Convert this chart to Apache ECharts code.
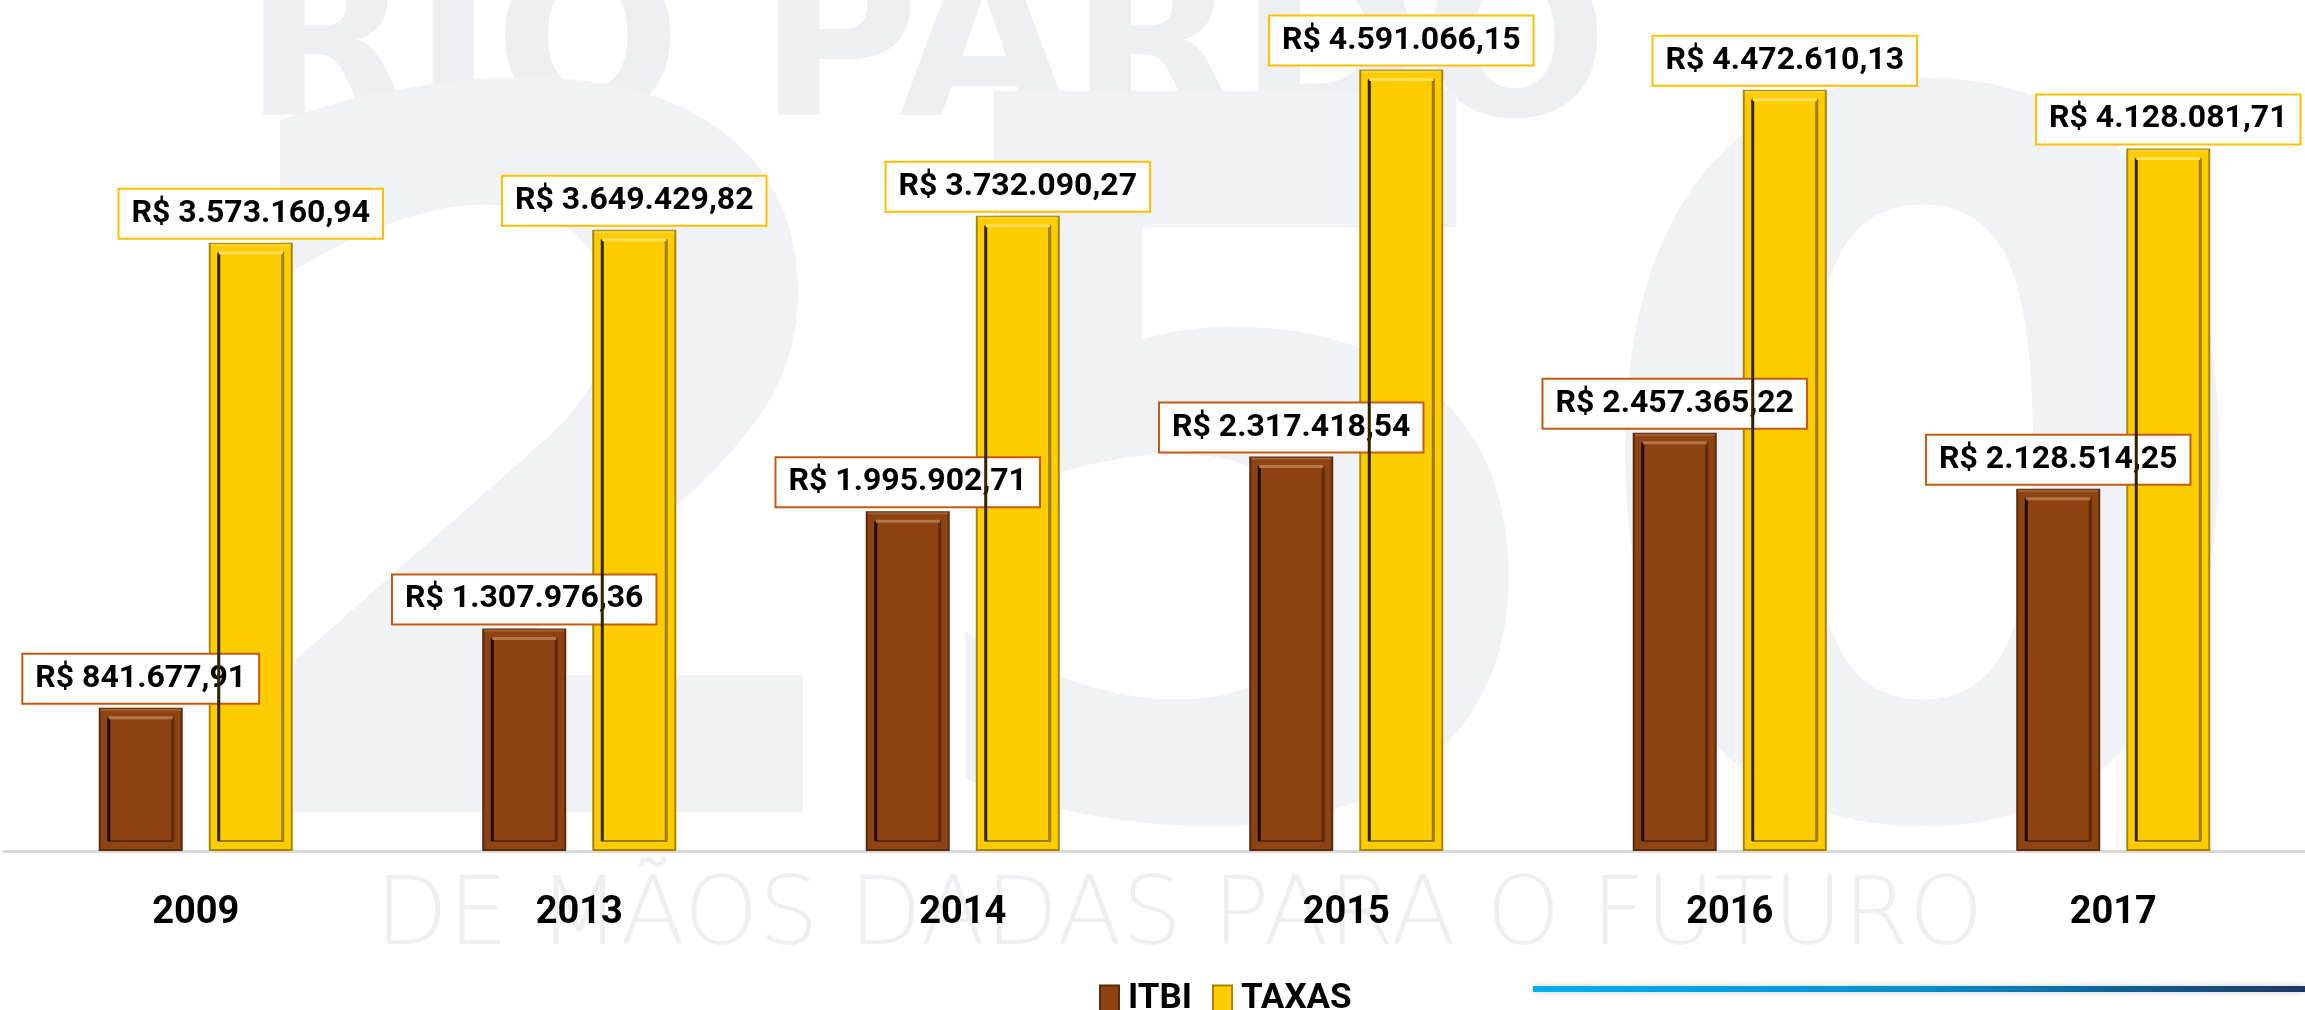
<!DOCTYPE html>
<html style="height: 100%">
<head>
<meta charset="utf-8" />
<title>ITBI x TAXAS</title>
</head>
<body style="height: 100%; margin: 0; background: #fff">
<div id="container" style="width: 2305px; height: 1010px"></div>
<script type="text/javascript" src="https://cdn.jsdelivr.net/npm/echarts@6/dist/echarts.min.js"></script>
<script type="text/javascript">
var anos = ['2009', '2013', '2014', '2015', '2016', '2017'];
var itbi = [841677.91, 1307976.36, 1995902.71, 2317418.54, 2457365.22, 2128514.25];
var taxas = [3573160.94, 3649429.82, 3732090.27, 4591066.15, 4472610.13, 4128081.71];
var nomes = ['ITBI', 'TAXAS'];

var fonte = "Roboto, 'Liberation Sans', sans-serif";
var W = 2305;
var larguraBarra = 84;
var vao = 26;

// formato R$ 1.234.567,89
function reais(v) {
    var p = v.toFixed(2).split('.');
    var inteiro = p[0].replace(/\B(?=(\d{3})+(?!\d))/g, '.');
    return 'R$ ' + inteiro + ',' + p[1];
}

var cores = [
    { fill: '#8e4313', borda: '#5a2a0a', caixa: '#c55a11', escuro: '#1e0b02', claro: '#b47646', meio: '#5e2a09' },
    { fill: '#ffcc00', borda: '#a88600', caixa: '#ffc000', escuro: '#2e2400', claro: '#ffe15a', meio: '#9c7c00' }
];

// dados do chanfro (desenho interno das barras)
var chanfro = [];
for (var i = 0; i < anos.length; i++) {
    chanfro.push([i, itbi[i], 0]);
    chanfro.push([i, taxas[i], 1]);
}

function serieBarra(idx, dados) {
    var c = cores[idx];
    return {
        name: nomes[idx],
        type: 'bar',
        data: dados,
        barWidth: larguraBarra,
        barGap: (vao / larguraBarra * 100).toFixed(1) + '%',
        itemStyle: { color: c.fill, borderColor: c.borda, borderWidth: 2 },
        label: {
            show: true,
            position: 'top',
            distance: 5,
            formatter: function (p) { return reais(p.value); },
            color: '#000',
            fontFamily: fonte,
            fontWeight: 'bold',
            fontSize: 32,
            lineHeight: 36,
            backgroundColor: '#fff',
            borderColor: c.caixa,
            borderWidth: 2,
            padding: [6, 12]
        },
        labelLayout: function (p) {
            var r = p.labelRect;
            if (r.x + r.width > W) return { dx: W - (r.x + r.width) - 1 };
            return {};
        },
        z: 3
    };
}

var dom = document.getElementById('container');
var myChart = echarts.init(dom);

var option = {
    backgroundColor: '#fff',
    animation: false,
    textStyle: { fontFamily: fonte },
    graphic: [
        { type: 'text', z: 0, left: 243, top: -52, silent: true,
          style: { text: 'RIO PARDO', font: "bold 220px 'DejaVu Sans'", fill: '#eeeff2' } },
        { type: 'text', z: 0, left: 200, top: 60, silent: true,
          style: { text: '250', font: "bold 990px 'DejaVu Sans'", fill: '#f1f2f5' } },
        { type: 'text', z: 0, left: 375, top: 872, silent: true,
          style: { text: 'DE MÃOS DADAS PARA O FUTURO', font: "95px 'DejaVu Sans Light', 'DejaVu Sans'", fill: '#eeeff2' } },
        { type: 'rect', z: 1, silent: true,
          shape: { x: 1533, y: 986, width: 772, height: 6 },
          style: {
              fill: new echarts.graphic.LinearGradient(0, 0, 1, 0, [
                  { offset: 0, color: '#00b0f0' },
                  { offset: 0.5, color: '#0090cc' },
                  { offset: 1, color: '#1f3864' }
              ]),
              shadowBlur: 6, shadowColor: 'rgba(0,0,0,0.2)'
          } }
    ],
    legend: {
        data: nomes,
        left: 1094,
        top: 977,
        itemWidth: 19,
        itemHeight: 28,
        itemGap: 20,
        icon: 'rect',
        textStyle: { fontFamily: fonte, fontWeight: 'bold', fontSize: 35, color: '#000', padding: [0, 0, 0, 4] }
    },
    grid: { left: 4, right: -24, top: 0, bottom: 159, containLabel: false },
    xAxis: {
        type: 'category',
        data: anos,
        axisTick: { show: false },
        axisLine: { lineStyle: { color: '#d9d9d9', width: 3 } },
        axisLabel: { color: '#000', fontFamily: fonte, fontWeight: 'bold', fontSize: 38, margin: 43 }
    },
    yAxis: {
        type: 'value',
        min: 0,
        max: 5000000,
        interval: 1000000,
        show: false,
        splitLine: { show: false }
    },
    series: [
        serieBarra(0, itbi),
        serieBarra(1, taxas),
        {
            type: 'custom',
            name: 'chanfro',
            silent: true,
            z: 4,
            data: chanfro,
            renderItem: function (params, api) {
                var k = api.value(2);
                var c = cores[k];
                var topo = api.coord([api.value(0), api.value(1)]);
                var base = api.coord([api.value(0), 0]);
                var desl = (k === 0 ? -1 : 1) * (larguraBarra + vao) / 2;
                var x0 = topo[0] + desl - larguraBarra / 2;
                var y0 = topo[1];
                var y1 = base[1];
                var m = 10;
                var ix0 = x0 + m, ix1 = x0 + larguraBarra - m;
                var iy0 = y0 + m, iy1 = y1 - m;
                return {
                    type: 'group',
                    children: [
                        { type: 'rect', shape: { x: ix0, y: iy0, width: ix1 - ix0, height: iy1 - iy0 },
                          style: { fill: 'none', stroke: c.meio, lineWidth: 2 } },
                        { type: 'line', shape: { x1: ix0, y1: iy0, x2: ix0, y2: iy1 },
                          style: { stroke: c.escuro, lineWidth: 3 } },
                        { type: 'line', shape: { x1: ix1, y1: iy0, x2: ix1, y2: iy1 },
                          style: { stroke: c.meio, lineWidth: 3 } },
                        { type: 'line', shape: { x1: ix0, y1: iy0, x2: ix1, y2: iy0 },
                          style: { stroke: c.claro, lineWidth: 3 } },
                        { type: 'line', shape: { x1: x0 + 2, y1: y0 + 2, x2: x0 + larguraBarra - 2, y2: y0 + 2 },
                          style: { stroke: c.claro, lineWidth: 2, opacity: 0.7 } }
                    ]
                };
            }
        }
    ]
};

myChart.setOption(option);
</script>
</body>
</html>
